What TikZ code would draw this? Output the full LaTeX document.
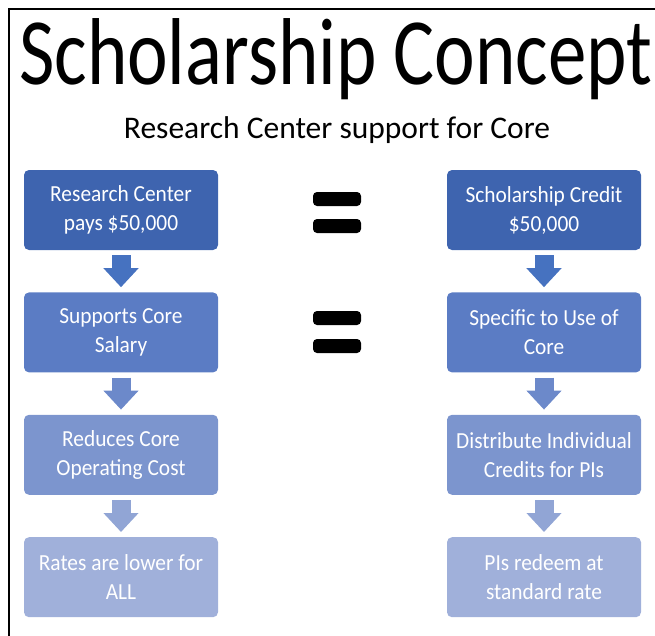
\documentclass[tikz,border=0pt]{standalone}
\usepackage{fontspec}
\setmainfont{Carlito}
\newfontfamily\titlefont[FakeStretch=0.81]{Carlito}
\newfontfamily\boxfont[FakeStretch=0.93]{Carlito}
\usetikzlibrary{arrows.meta,positioning}

\definecolor{stepone}{RGB}{62,100,175}
\definecolor{steptwo}{RGB}{91,124,196}
\definecolor{stepthree}{RGB}{124,149,206}
\definecolor{stepfour}{RGB}{160,176,218}
\definecolor{arrowone}{RGB}{70,114,192}
\definecolor{arrowtwo}{RGB}{108,137,202}
\definecolor{arrowthree}{RGB}{145,165,213}

\tikzset{
   box/.style = {rectangle, rounded corners=5pt, minimum width=194pt, minimum height=80pt,
                 align=center, inner sep=0pt, text=white,
                 font=\boxfont\fontsize{23}{29}\selectfont},
   arrow/.style = {line width=19pt, -{Triangle[width=34pt,length=19pt]},
                   shorten <=5pt, shorten >=5pt},
   bar/.style = {fill=black, rounded corners=4pt},
}

\begin{document}
\begin{tikzpicture}

      \useasboundingbox (0pt,0pt) rectangle (655pt,-635pt);
      \draw[line width=2.5pt] (9pt,-640pt) -- (9pt,-9pt) -- (660pt,-9pt);

      \node[anchor=base, font=\titlefont\fontsize{95}{95}\selectfont] (title) at (336pt,-84pt) {Scholarship Concept};
      \node[anchor=base, font=\fontsize{31.5}{32}\selectfont] (subtitle) at (337pt,-138pt) {Research Center support for Core};

      % left column
      \node[box, fill=stepone]                        (pays)    at (121pt,-210pt) {Research Center\\pays \$50,000};
      \node[box, fill=steptwo,   below=42pt of pays]  (salary)  {Supports Core\\Salary};
      \node[box, fill=stepthree, below=42pt of salary](cost)    {Reduces Core\\Operating Cost};
      \node[box, fill=stepfour,  below=42pt of cost]  (rates)   {Rates are lower for\\ALL};

      % right column
      \node[box, fill=stepone]                        (credit)  at (544pt,-210pt) {Scholarship Credit\\\$50,000};
      \node[box, fill=steptwo,   below=42pt of credit](specific){Specific to Use of\\Core};
      \node[box, fill=stepthree, below=42pt of specific](distribute){Distribute Individual\\Credits for PIs};
      \node[box, fill=stepfour,  below=42pt of distribute](redeem){PIs redeem at\\standard rate};

      \draw[arrow, arrowone]   (pays)   -- (salary);
      \draw[arrow, arrowtwo]   (salary) -- (cost);
      \draw[arrow, arrowthree] (cost)   -- (rates);
      \draw[arrow, arrowone]   (credit)     -- (specific);
      \draw[arrow, arrowtwo]   (specific)   -- (distribute);
      \draw[arrow, arrowthree] (distribute) -- (redeem);

      % equals signs
      \foreach \top in {192,219,311,339}
         \fill[bar] (313pt,-\top pt) rectangle (361pt,-\top pt-14pt);

\end{tikzpicture}
\end{document}
